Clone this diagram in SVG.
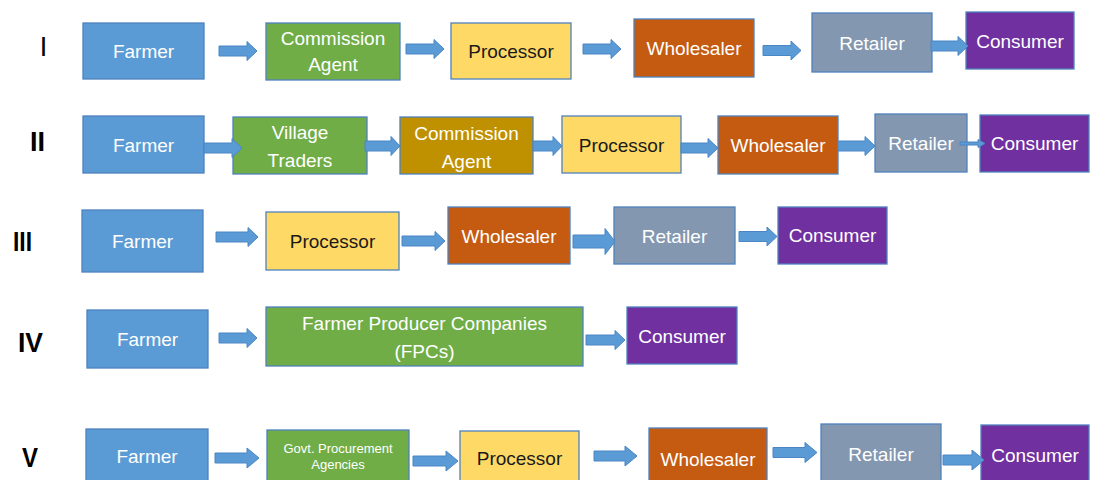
<svg xmlns="http://www.w3.org/2000/svg" width="1094" height="480" viewBox="0 0 1094 480">
<style>
.box{stroke:#4F81BD;stroke-width:1.3}
.farmer{fill:#5B9BD5}
.green{fill:#70AD47}
.gold{fill:#BF9000}
.yellow{fill:#FFD966}
.orange{fill:#C55A11}
.grey{fill:#8497B0}
.purple{fill:#7030A0}
text{font-family:"Liberation Sans",Arial,sans-serif;font-size:19px;text-anchor:middle;fill:#FFFFFF}
text.dark{fill:#1A1A1A}
text.small{font-size:13px}
text.num{fill:#000000;font-size:27px;font-weight:bold}
.arr{fill:#5B9BD5;stroke:#4A86C5;stroke-width:1}
</style>
<rect width="1094" height="480" fill="#FFFFFF"/>

<g id="labels">
<text class="num" x="43.5" y="56" style="font-weight:normal">I</text>
<text class="num" x="37.5" y="151">II</text>
<text class="num" x="22.5" y="251" textLength="19" lengthAdjust="spacingAndGlyphs">III</text>
<text class="num" x="30.5" y="352" textLength="25" lengthAdjust="spacingAndGlyphs">IV</text>
<text class="num" x="30" y="467" textLength="16" lengthAdjust="spacingAndGlyphs">V</text>
</g>

<!-- Row I -->
<g id="r1-farmer"><rect class="box farmer" x="83" y="23" width="121" height="56"/><text x="143.5" y="58">Farmer</text></g>
<g id="r1-agent"><rect class="box green" x="266" y="23" width="134" height="57"/><text x="333" y="45">Commission</text><text x="333" y="71">Agent</text></g>
<g id="r1-processor"><rect class="box yellow" x="451" y="23" width="120" height="56"/><text class="dark" x="511" y="58">Processor</text></g>
<g id="r1-wholesaler"><rect class="box orange" x="634" y="19" width="120" height="58"/><text x="694" y="55">Wholesaler</text></g>
<g id="r1-retailer"><rect class="box grey" x="812" y="13" width="120" height="59"/><text x="872" y="50">Retailer</text></g>
<g id="r1-consumer"><rect class="box purple" x="966" y="12" width="108" height="57"/><text x="1020" y="48">Consumer</text></g>

<!-- Row II -->
<g id="r2-farmer"><rect class="box farmer" x="83" y="116" width="121" height="57"/><text x="143.5" y="151.5">Farmer</text></g>
<g id="r2-village"><rect class="box green" x="233" y="117" width="134" height="57"/><text x="300" y="139">Village</text><text x="300" y="167">Traders</text></g>
<g id="r2-agent"><rect class="box gold" x="400" y="117" width="133" height="57"/><text x="466.5" y="140">Commission</text><text x="466.5" y="168">Agent</text></g>
<g id="r2-processor"><rect class="box yellow" x="562" y="116" width="119" height="57"/><text class="dark" x="621.5" y="152">Processor</text></g>
<g id="r2-wholesaler"><rect class="box orange" x="718" y="116" width="120" height="58"/><text x="778" y="152">Wholesaler</text></g>
<g id="r2-retailer"><rect class="box grey" x="875" y="114" width="92" height="58"/><text x="921" y="150">Retailer</text></g>
<g id="r2-consumer"><rect class="box purple" x="980" y="115" width="109" height="57"/><text x="1034.5" y="150">Consumer</text></g>

<!-- Row III -->
<g id="r3-farmer"><rect class="box farmer" x="82" y="210" width="121" height="62"/><text x="142.5" y="248">Farmer</text></g>
<g id="r3-processor"><rect class="box yellow" x="266" y="212" width="133" height="58"/><text class="dark" x="332.5" y="248">Processor</text></g>
<g id="r3-wholesaler"><rect class="box orange" x="448" y="207" width="122" height="57"/><text x="509" y="243">Wholesaler</text></g>
<g id="r3-retailer"><rect class="box grey" x="614" y="207" width="121" height="57"/><text x="674.5" y="243">Retailer</text></g>
<g id="r3-consumer"><rect class="box purple" x="778" y="207" width="109" height="57"/><text x="832.5" y="242">Consumer</text></g>

<!-- Row IV -->
<g id="r4-farmer"><rect class="box farmer" x="87" y="310" width="121" height="58"/><text x="147.5" y="346">Farmer</text></g>
<g id="r4-fpc"><rect class="box green" x="266" y="307" width="317" height="59"/><text x="424.5" y="330">Farmer Producer Companies</text><text x="424.5" y="358">(FPCs)</text></g>
<g id="r4-consumer"><rect class="box purple" x="627" y="307" width="110" height="57"/><text x="682" y="342.5">Consumer</text></g>

<!-- Row V -->
<g id="r5-farmer"><rect class="box farmer" x="86" y="429" width="122" height="60"/><text x="147" y="463">Farmer</text></g>
<g id="r5-govt"><rect class="box green" x="267" y="430" width="142" height="60"/><text class="small" x="338" y="453">Govt. Procurement</text><text class="small" x="338" y="469">Agencies</text></g>
<g id="r5-processor"><rect class="box yellow" x="460" y="431" width="119" height="60"/><text class="dark" x="519.5" y="465">Processor</text></g>
<g id="r5-wholesaler"><rect class="box orange" x="649" y="428" width="118" height="60"/><text x="708" y="466">Wholesaler</text></g>
<g id="r5-retailer"><rect class="box grey" x="821" y="424" width="120" height="64"/><text x="881" y="461">Retailer</text></g>
<g id="r5-consumer"><rect class="box purple" x="981" y="425" width="108" height="62"/><text x="1035" y="462">Consumer</text></g>

<g id="connectors">
<polygon class="arr" points="219,46 247,46 247,41.5 257,51 247,60.5 247,56 219,56"/>
<polygon class="arr" points="406,44 434,44 434,39.5 444,49 434,58.5 434,54 406,54"/>
<polygon class="arr" points="583,44 611,44 611,39.5 621,49 611,58.5 611,54 583,54"/>
<polygon class="arr" points="763,45.5 791,45.5 791,41 801,50.5 791,60 791,55.5 763,55.5"/>
<polygon class="arr" points="931,41 958,41 958,36.5 968,46 958,55.5 958,51 931,51"/>

<polygon class="arr" points="204,143 232,143 232,138.5 242,148 232,157.5 232,153 204,153"/>
<polygon class="arr" points="365,141 391,141 391,136.5 400,146 391,155.5 391,151 365,151"/>
<polygon class="arr" points="533,141 553,141 553,136.5 562,146 553,155.5 553,151 533,151"/>
<polygon class="arr" points="681,143 708,143 708,138.5 718,148 708,157.5 708,153 681,153"/>
<polygon class="arr" points="838,141 865,141 865,136.5 875,146 865,155.5 865,151 838,151"/>
<polygon class="arr" points="960,142 978,142 978,139.5 985,143.5 978,147.5 978,145 960,145"/>

<polygon class="arr" points="216,232 248,232 248,227.5 258,237 248,246.5 248,242 216,242"/>
<polygon class="arr" points="402,236 435,236 435,231.5 445,241 435,250.5 435,246 402,246"/>
<polygon class="arr" points="573,235 605,235 605,228.5 615,241.5 605,254.5 605,248 573,248"/>
<polygon class="arr" points="739,231.5 767,231.5 767,227 777,236.5 767,246 767,241.5 739,241.5"/>

<polygon class="arr" points="219,333 247,333 247,328.5 257,338 247,347.5 247,343 219,343"/>
<polygon class="arr" points="586,335 615,335 615,330.5 625,340 615,349.5 615,345 586,345"/>

<polygon class="arr" points="215,453 247,453 247,448 259,458 247,468 247,463 215,463"/>
<polygon class="arr" points="413,456 446,456 446,451 458,461 446,471 446,466 413,466"/>
<polygon class="arr" points="594,451 625,451 625,446 637,456 625,466 625,461 594,461"/>
<polygon class="arr" points="773,447.5 805,447.5 805,442.5 817,452.5 805,462.5 805,457.5 773,457.5"/>
<polygon class="arr" points="943,455 972,455 972,450 984,460 972,470 972,465 943,465"/>
</g>
</svg>
